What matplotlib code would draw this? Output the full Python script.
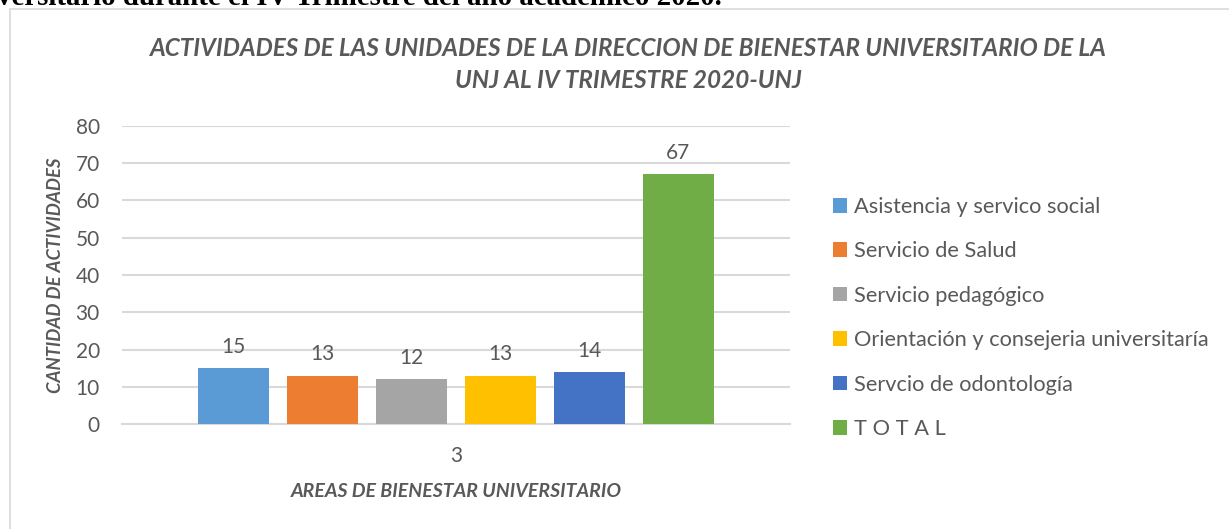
import matplotlib
matplotlib.use('Agg')
import matplotlib.pyplot as plt
from matplotlib.patches import Patch, Rectangle
import numpy as np

# data
series = ['Asistencia y servico social', 'Servicio de Salud', 'Servicio pedagógico',
          'Orientación y consejeria universitaría', 'Servcio de odontología', 'T O T A L']
values = [15, 13, 12, 13, 14, 67]
colors = ['#5B9BD5', '#ED7D31', '#A5A5A5', '#FFC000', '#4472C4', '#70AD47']
category = ['3']

txt = '#595959'
grid = '#D9D9D9'
font = 'Lato'

fig = plt.figure(figsize=(12.29, 5.29), dpi=100)
W, H = 1229, 529

# cut-off heading from the document above the chart
fig.text(-3 / W, 1 - 5 / H, 'versitario durante el IV Trimestre del año académico 2020.',
         family='Liberation Serif', fontweight='bold', fontsize=20.8, color='black',
         ha='left', va='baseline')

# chart border
fig.patches.append(Rectangle((9.5 / W, -0.1), 1.2, 1 - 8.5 / H + 0.1, transform=fig.transFigure,
                             fill=False, edgecolor=grid, linewidth=1.2))

ax = fig.add_axes([122 / W, 1 - 424 / H, (790 - 122) / W, (424 - 126) / H])

step = 0.1332
width = 0.106
for i, (name, v, c) in enumerate(zip(series, values, colors)):
    b = ax.bar((i - 2.5) * step, v, width, color=c, label=name, zorder=3)
    ax.bar_label(b, padding=8, fontsize=15, color=txt, family=font)

ax.set_xlim(-0.5, 0.5)
ax.set_ylim(0, 80)
ax.set_yticks(range(0, 81, 10))
ax.set_xticks([0])
ax.set_xticklabels(category)
ax.yaxis.grid(True, color=grid, linewidth=1.5, zorder=0)
for s in ['top', 'right', 'left']:
    ax.spines[s].set_visible(False)
ax.spines['bottom'].set_color(grid)
ax.spines['bottom'].set_linewidth(1.5)
ax.tick_params(axis='both', length=0, labelcolor=txt, labelsize=15)
ax.tick_params(axis='y', pad=16)
ax.tick_params(axis='x', pad=16)
for lab in ax.get_xticklabels() + ax.get_yticklabels():
    lab.set_family(font)

ax.set_xlabel('AREAS DE BIENESTAR UNIVERSITARIO', family=font, fontsize=14,
              fontweight='bold', style='italic', color=txt, labelpad=12)
ax.set_ylabel('CANTIDAD DE ACTIVIDADES', family=font, fontsize=13.3,
              fontweight='bold', style='italic', color=txt)
ax.yaxis.set_label_coords((64 - 122) / (790 - 122), 0.5)

fig.text(628 / W, 1 - 37 / H,
         'ACTIVIDADES DE LAS UNIDADES DE LA DIRECCION DE BIENESTAR UNIVERSITARIO DE LA\nUNJ AL IV TRIMESTRE 2020-UNJ',
         family=font, fontsize=17.5, fontweight='bold', style='italic', color=txt,
         ha='center', va='top', linespacing=1.45, transform=fig.transFigure)

handles = [Patch(facecolor=c, label=n) for n, c in zip(series, colors)]
fig.legend(handles=handles, loc='upper left', bbox_to_anchor=(833 / W, 1 - 197 / H),
           frameon=False, labelcolor=txt, prop={'family': font, 'size': 15.7},
           handlelength=0.65, handleheight=0.65, handletextpad=0.3, labelspacing=1.12,
           borderaxespad=0, borderpad=0)

fig.savefig('out.png', dpi=100)
